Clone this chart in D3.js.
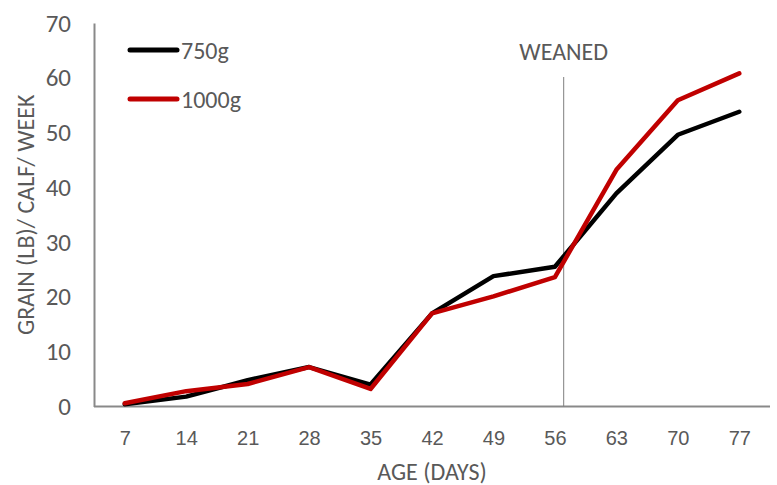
<!DOCTYPE html>
<html>
<head>
<meta charset="utf-8">
<script src="https://cdn.jsdelivr.net/npm/d3@7"></script>
<style>
  html, body { margin: 0; padding: 0; background: #fff; }
  svg { display: block; font-family: Carlito, Lato, "Open Sans", sans-serif; }
</style>
</head>
<body>
<svg id="chart" width="777" height="485"></svg>
<script>
const ages = [7, 14, 21, 28, 35, 42, 49, 56, 63, 70, 77];
const series750 = [0.4, 1.8, 4.8, 7.2, 4.0, 17.0, 23.8, 25.5, 38.9, 49.6, 53.8];
const series1000 = [0.6, 2.8, 4.1, 7.2, 3.2, 17.0, 20.1, 23.6, 43.2, 55.9, 60.8];
const seriesNames = ["750g", "1000g"];
const seriesColors = ["#000000", "#c00000"];
const yTicks = [0, 10, 20, 30, 40, 50, 60, 70];
const weanedAge = 57;
const weanedLabel = "WEANED";
const xTitle = "AGE (DAYS)";
const yTitle = "GRAIN (LB)/ CALF/ WEEK";

const svg = d3.select("#chart");
const mLeft = 94, mRight = 770, mTop = 23, mBottom = 406.5;
const textColor = "#595959";
const axisColor = "#898989";

const x = d3.scalePoint().domain(ages).range([mLeft, mRight]).padding(0.5);
const xLin = d3.scaleLinear().domain([ages[0], ages[ages.length - 1]]).range([x(ages[0]), x(ages[ages.length - 1])]);
const y = d3.scaleLinear().domain([0, 70]).range([mBottom, mTop]);

// Y axis
const yAxis = svg.append("g").attr("transform", `translate(${mLeft},0)`)
  .call(d3.axisLeft(y).tickValues(yTicks).tickSize(0).tickPadding(23));
yAxis.select(".domain").attr("stroke", axisColor).attr("stroke-width", 2);
yAxis.selectAll("text").attr("fill", textColor).style("font-size", "25px")
  .attr("font-family", "Carlito, Lato, sans-serif");

// X axis
const xAxis = svg.append("g").attr("transform", `translate(0,${mBottom})`)
  .call(d3.axisBottom(x).tickSize(0).tickPadding(24));
xAxis.select(".domain").attr("stroke", axisColor).attr("stroke-width", 2)
  .attr("d", `M${mLeft},0H${mRight}`);
xAxis.selectAll("text").attr("fill", textColor).style("font-size", "20px");

// Weaned line
svg.append("line")
  .attr("x1", xLin(weanedAge)).attr("x2", xLin(weanedAge))
  .attr("y1", 77).attr("y2", mBottom)
  .attr("stroke", "#7f7f7f").attr("stroke-width", 1);
svg.append("text")
  .attr("x", xLin(weanedAge)).attr("y", 60)
  .attr("text-anchor", "middle")
  .attr("fill", textColor).style("font-size", "24px")
  .text(weanedLabel);

// Lines
const line = d3.line().x((d, i) => x(ages[i])).y(d => y(d));
[series750, series1000].forEach((s, i) => {
  svg.append("path").datum(s)
    .attr("d", line)
    .attr("fill", "none")
    .attr("stroke", seriesColors[i])
    .attr("stroke-width", 4.5)
    .attr("stroke-linejoin", "round")
    .attr("stroke-linecap", "round");
});

// Legend
seriesNames.forEach((name, i) => {
  const ly = 50 + i * 49;
  svg.append("line").attr("x1", 130).attr("x2", 177).attr("y1", ly).attr("y2", ly)
    .attr("stroke", seriesColors[i]).attr("stroke-width", 5).attr("stroke-linecap", "round");
  svg.append("text").attr("x", 181).attr("y", ly + 8.5)
    .attr("fill", textColor).style("font-size", "24px").text(name);
});

// Axis titles
svg.append("text")
  .attr("x", (mLeft + mRight) / 2).attr("y", 480)
  .attr("text-anchor", "middle").attr("fill", textColor).style("font-size", "24px")
  .text(xTitle);
svg.append("text")
  .attr("transform", `translate(34,${(mTop + mBottom) / 2}) rotate(-90)`)
  .attr("text-anchor", "middle").attr("fill", textColor).style("font-size", "24px")
  .text(yTitle);
</script>
</body>
</html>
